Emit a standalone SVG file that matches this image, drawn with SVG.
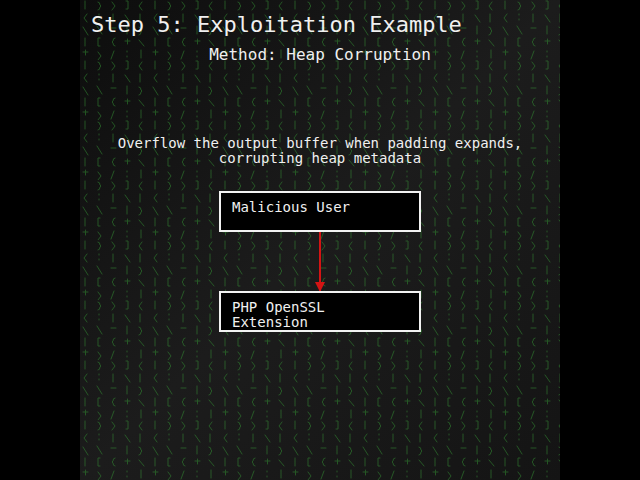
<svg xmlns="http://www.w3.org/2000/svg" width="640" height="480" viewBox="0 0 640 480">
  <style>
    .mono { font-family: "DejaVu Sans Mono", "Liberation Mono", monospace; fill: #f0f0f0; }
    .node rect { fill: #000000; stroke: #f2f2f2; stroke-width: 2; }
    .node text { font-size: 14px; }
    .rain { fill: none; stroke: #2f8a2f; stroke-width: 1; stroke-linecap: round; stroke-linejoin: round; }
  </style>
  <defs>
    <linearGradient id="panelGrad" x1="0" y1="0" x2="1" y2="1">
      <stop offset="0" stop-color="#0d0d0d"/>
      <stop offset="0.5" stop-color="#1c1c1c"/>
      <stop offset="1" stop-color="#141414"/>
    </linearGradient>
    <pattern id="rainPat" x="82" y="0" width="70" height="60" patternUnits="userSpaceOnUse">
      <g class="rain" opacity="0.55">
        <path d="M3 1 v8"/>
        <path d="M5 14 l-3 4 l3 4"/>
        <path d="M1 27 l5 8"/>
        <path d="M3 38 v8"/>
        <path d="M1 52 h5 M3.5 50 v5"/>
        <path d="M16 2 q2 0 2 3 l1 1 l-1 1 q0 3 -2 3"/>
        <path d="M17 14 v1 M17 19 v1"/>
        <path d="M15 26 l5 8"/>
        <path d="M18 38 h-2 v8 h2"/>
        <path d="M16 52 l3 4 l-3 4"/>
        <path d="M30 2 l3 4 l-3 4"/>
        <path d="M31 14 v8"/>
        <path d="M29 28 h5"/>
        <path d="M33 38 q-2 0 -2 3 l-1 1 l1 1 q0 3 2 3"/>
        <path d="M32 51 l-3 8"/>
        <path d="M44 1 h2 v8 h-2"/>
        <path d="M43 15 l5 7"/>
        <path d="M45 26 v8"/>
        <path d="M43 41 h5 M45.5 39 v5"/>
        <path d="M45 51 v1 M45 56 v1"/>
        <path d="M60 2 l-3 4 l3 4"/>
        <path d="M58 14 v8"/>
        <path d="M57 27 q2 0 2 3 l1 1 l-1 1 q0 3 -2 3"/>
        <path d="M57 40 l5 6"/>
        <path d="M59 50 v8"/>
      </g>
    </pattern>
    <marker id="arrowRed" viewBox="0 0 10 10" refX="9" refY="5" markerWidth="5" markerHeight="5" orient="auto" markerUnits="strokeWidth">
      <path d="M0 0 L10 5 L0 10 z" fill="#d41414"/>
    </marker>
  </defs>

  <rect x="0" y="0" width="640" height="480" fill="#000000"/>
  <rect x="80" y="0" width="480" height="480" fill="url(#panelGrad)"/>
  <rect x="80" y="0" width="480" height="480" fill="url(#rainPat)"/>

  <g id="titles">
    <text class="mono" x="91" y="32" font-size="22">Step 5: Exploitation Example</text>
    <text class="mono" x="320" y="60" font-size="16" text-anchor="middle">Method: Heap Corruption</text>
    <text class="mono" x="320" y="148" font-size="14" text-anchor="middle">Overflow the output buffer when padding expands,</text>
    <text class="mono" x="320" y="163" font-size="14" text-anchor="middle">corrupting heap metadata</text>
  </g>

  <g id="connectors">
    <line x1="320" y1="232" x2="320" y2="291" stroke="#d41414" stroke-width="2" marker-end="url(#arrowRed)"/>
  </g>

  <g id="node-malicious-user" class="node">
    <rect x="220" y="192" width="200" height="39"/>
    <text class="mono" x="232" y="212">Malicious User</text>
  </g>

  <g id="node-php-openssl" class="node">
    <rect x="220" y="292" width="200" height="39"/>
    <text class="mono" x="232" y="312">PHP OpenSSL</text>
    <text class="mono" x="232" y="327">Extension</text>
  </g>
</svg>
